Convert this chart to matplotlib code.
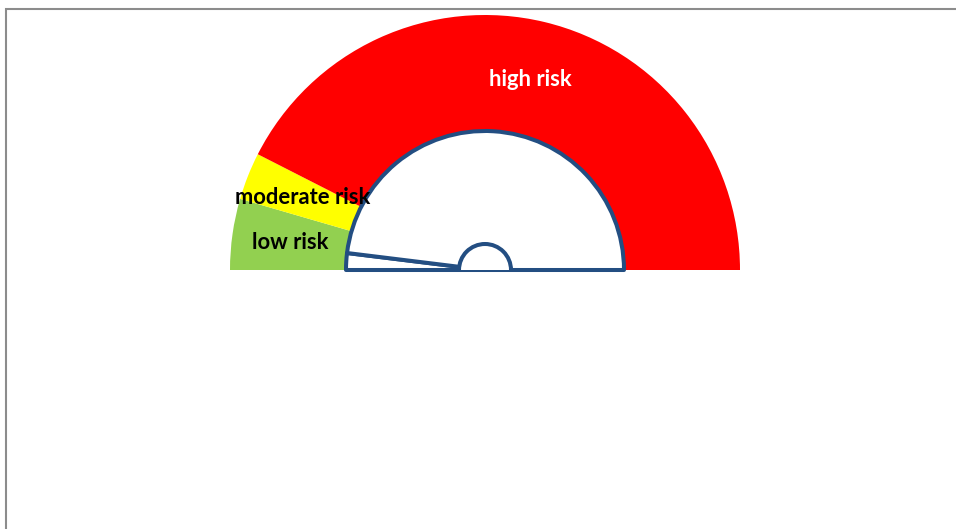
import numpy as np
import matplotlib
matplotlib.use("Agg")
import matplotlib.pyplot as plt
from matplotlib.patches import Wedge, Arc, Rectangle

# gauge bands (share of the half circle) and needle value
bands = ["low risk", "moderate risk", "high risk"]
band_values = [9, 6, 85]
band_colors = ["#92D050", "#FFFF00", "#FF0000"]
label_colors = ["black", "black", "white"]
needle_value = 3.9

W, H = 956, 529
fig = plt.figure(figsize=(W / 100, H / 100), dpi=100)
ax = fig.add_axes([0, 0, 1, 1])

# px -> data: centre of the gauge at (485, 270) px, outer radius 255 px
cx, cy, R = 485, 270, 255.0
r_in = 139 / R
r_hub = 26 / R
blue = "#234E82"
lw = 2.9

total = sum(band_values)
# outer ring, clockwise from the left
start = 180.0
for name, v, c, tc in zip(bands, band_values, band_colors, label_colors):
    span = 180.0 * v / total
    end = start - span
    ax.add_patch(Wedge((0, 0), 1.0, end, start, width=1.0 - r_in + 0.01,
                       facecolor=c, edgecolor="none"))
    mid = np.deg2rad((start + end) / 2)
    rr = 0.77
    ax.text(rr * np.cos(mid), rr * np.sin(mid), name, ha="center", va="center",
            fontsize=15.8, fontweight="bold", color=tc, family="Lato")
    start = end

# inner white pie with the needle slice
needle_ang = 180.0 - 180.0 * needle_value / total
ax.add_patch(Wedge((0, 0), r_in, needle_ang, 180, facecolor="white",
                   edgecolor=blue, linewidth=lw, joinstyle="round"))
ax.add_patch(Wedge((0, 0), r_in, 0, needle_ang, facecolor="white",
                   edgecolor=blue, linewidth=lw, joinstyle="round"))

# hub
ax.add_patch(Wedge((0, 0), r_hub, 0, 180, facecolor="white", edgecolor="none"))
ax.add_patch(Arc((0, 0), 2 * r_hub, 2 * r_hub, theta1=0, theta2=180,
                 color=blue, linewidth=lw))

ax.set_xlim(-cx / R, (W - cx) / R)
ax.set_ylim(-(H - cy) / R, cy / R)
ax.set_aspect("equal")
ax.axis("off")

# chart frame (cut off at right and bottom)
fig.add_artist(Rectangle((6 / W, -0.1), 1.2, 1.1 - 9 / H,
                         transform=fig.transFigure, fill=False,
                         edgecolor="#8C8C8C", linewidth=1.5))

fig.savefig("out.png", dpi=100)
